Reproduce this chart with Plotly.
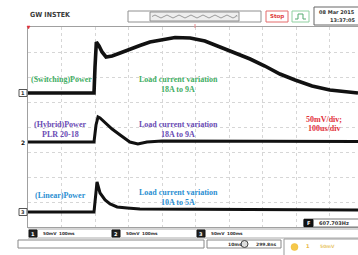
import plotly.graph_objects as go

# ---- data (time in us, 100us/div; screen value in mV, 50mV/div) ----
t_switching = [0, 197, 200, 204, 212, 221, 233, 251, 275, 304, 334, 364, 394, 439, 484, 528, 573, 618, 663, 707, 752, 797, 848, 901, 949, 985]
v_switching = [68, 68, 120, 170, 162, 150, 140, 142, 148, 156, 163, 170, 174, 179, 178, 172, 160, 148, 136, 122, 106, 94, 82, 74, 70, 68]

t_hybrid = [0, 197, 203, 209, 215, 230, 251, 275, 304, 328, 355, 400, 985]
v_hybrid = [-30, -30, 4, 20, 18, 8, -4, -16, -30, -34, -30, -28, -29]

t_linear = [0, 197, 203, 206, 215, 230, 245, 266, 296, 334, 985]
v_linear = [-170, -170, -130, -110, -132, -146, -154, -160, -162, -164, -166]

labels = {
    "switching": "(Switching)Power",
    "hybrid": ["(Hybrid)Power", "PLR 20-18"],
    "linear": "(Linear)Power",
}
load_texts = [["Load current variation", "18A to 9A"],
              ["Load current variation", "18A to 9A"],
              ["Load current variation", "10A to 5A"]]
scale_text = ["50mV/div;", "100us/div"]

GREEN = "#3fae64"
PURPLE = "#6a4cb4"
BLUE = "#2b8fd2"
RED = "#e2323c"

W, H = 358, 255
L, T, R_, B_ = 28, 27, 358, 227


def px(x):
    return (x - L) / (R_ - L)


def py(y):
    return (B_ - y) / (B_ - T)


fig = go.Figure()
for t, v, w in [(t_switching, v_switching, 3.6), (t_hybrid, v_hybrid, 3.0), (t_linear, v_linear, 3.0)]:
    fig.add_trace(go.Scatter(x=t, y=v, mode="lines", line=dict(color="#111111", width=w),
                             showlegend=False, hoverinfo="skip"))

ann = []
SERIF = "Liberation Serif"


def txt(x, y, s, color, size=8, xref="x", yref="y", bold=True, family=SERIF, xanchor="center"):
    ann.append(dict(x=x, y=y, xref=xref, yref=yref, text=("<b>%s</b>" % s) if bold else s,
                    showarrow=False, font=dict(family=family, size=size, color=color),
                    xanchor=xanchor, yanchor="middle"))


# channel annotations (data coords)
txt(101, 96, labels["switching"], GREEN)
txt(448, 96, load_texts[0][0], GREEN)
txt(448, 76, load_texts[0][1], GREEN)
txt(96, 6, labels["hybrid"][0], PURPLE)
txt(96, -14, labels["hybrid"][1], PURPLE)
txt(448, 6, load_texts[1][0], PURPLE)
txt(448, -14, load_texts[1][1], PURPLE)
txt(884, 16, scale_text[0], RED)
txt(884, -2, scale_text[1], RED)
txt(96, -136, labels["linear"], BLUE)
txt(448, -130, load_texts[2][0], BLUE)
txt(448, -150, load_texts[2][1], BLUE)

shapes = []


def rect(x0, y0, x1, y1, line="#888888", fill="white", lw=1):
    shapes.append(dict(type="rect", xref="paper", yref="paper", x0=px(x0), x1=px(x1), y0=py(y1), y1=py(y0),
                       line=dict(color=line, width=lw), fillcolor=fill, layer="above"))


def hline(x0, x1, y, color="#999999", lw=1):
    shapes.append(dict(type="line", xref="paper", yref="paper", x0=px(x0), x1=px(x1), y0=py(y), y1=py(y),
                       line=dict(color=color, width=lw)))


def ptxt(x, y, s, color="#333333", size=5.5, bold=True, xanchor="left", family="DejaVu Sans"):
    txt(px(x), py(y), s, color, size=size, xref="paper", yref="paper", bold=bold, family=family, xanchor=xanchor)


# top bar
ptxt(28, 15, "GW INSTEK", "#3a3a3a", size=7, family="DejaVu Sans Condensed")
rect(128, 11, 261, 22, line="#909090")
rect(150, 12, 239, 21, line="#909090", fill="#eeeeee")
wave = "M %f,%f" % (px(152), py(16.5))
xw = 152
up = True
while xw < 237:
    xn = min(xw + 6, 237)
    wave += " Q %f,%f %f,%f" % (px((xw + xn) / 2), py(13.5 if up else 19.5), px(xn), py(16.5))
    up = not up
    xw = xn
shapes.append(dict(type="path", xref="paper", yref="paper", path=wave, line=dict(color="#9a9a9a", width=1)))
rect(266, 11, 288, 22, line="#e46a6a")
ptxt(277, 16.5, "Stop", "#e03a3a", size=5.5, xanchor="center")
rect(292, 11, 309, 22, line="#8fd0a0")
pulse = "M %f,%f L %f,%f L %f,%f L %f,%f L %f,%f" % (px(295), py(19), px(298), py(19), px(298), py(14),
                                                     px(303), py(14), px(303), py(19))
pulse += " L %f,%f" % (px(306), py(19))
shapes.append(dict(type="path", xref="paper", yref="paper", path=pulse, line=dict(color="#55aa70", width=1)))
rect(314, 7, 362, 25, line="#666666")
ptxt(317, 12, "08 Mar 2015", "#333333", size=5)
ptxt(328, 20, "13:37:05", "#333333", size=5)

# trigger markers
shapes.append(dict(type="path", xref="paper", yref="paper",
                   path="M %f,%f L %f,%f L %f,%f Z" % (px(27), py(26), px(30), py(26), px(28.5), py(29)),
                   fillcolor=RED, line=dict(color=RED, width=0.5)))
shapes.append(dict(type="line", xref="paper", yref="paper", x0=px(195), x1=px(195), y0=py(24), y1=py(28),
                   line=dict(color="#e88a8a", width=1)))

# channel ground markers
for yy, lab, filled in [(93, "1", False), (142, "2", True), (212, "3", False)]:
    if filled:
        ptxt(23, yy, lab, "#111111", size=6, xanchor="center")
    else:
        rect(19, yy - 3.5, 27, yy + 3.5, line="#555555")
        ptxt(23, yy, lab, "#333333", size=5, xanchor="center")

# frequency box
rect(304, 219, 362, 227, line="#777777")
rect(304, 219.5, 313, 226.5, line="#111111", fill="#111111")
ptxt(308.5, 223, "F", "white", size=5, xanchor="center")
ptxt(317, 223, "607.703Hz", "#333333", size=5)

# channel info row
hline(28, 358, 229, "#aaaaaa")
hline(28, 358, 238, "#aaaaaa")
for x0, lab in [(29, "1"), (112, "2"), (197, "3")]:
    rect(x0, 230, x0 + 8, 237, line="#111111", fill="#222222")
    ptxt(x0 + 4, 233.5, lab, "white", size=5, xanchor="center")
    ptxt(x0 + 12, 233.5, "50mV", "#333333", size=4.2)
    ptxt(x0 + 28, 233.5, "100ms", "#333333", size=4.2)

# bottom row
shapes.append(dict(type="rect", xref="paper", yref="paper", x0=px(18), x1=px(204), y0=py(248), y1=py(240),
                   line=dict(color="#888888", width=1), fillcolor="white"))
rect(207, 240, 281, 248, line="#888888")
ptxt(226, 244, "10ms", "#333333", size=4.5)
shapes.append(dict(type="circle", xref="paper", yref="paper", x0=px(241), x1=px(248), y0=py(247.5), y1=py(240.5),
                   line=dict(color="#444444", width=1), fillcolor="#dddddd"))
ptxt(254, 244, "299.8ns", "#333333", size=4.5)
shapes.append(dict(type="line", xref="paper", yref="paper", x0=px(284), x1=px(284), y0=py(255), y1=py(239),
                   line=dict(color="#999999", width=1)))
hline(284, 360, 239, "#999999")
shapes.append(dict(type="circle", xref="paper", yref="paper", x0=px(291), x1=px(298), y0=py(250.5), y1=py(243.5),
                   fillcolor="#f5c84a", line=dict(color="#f0b830", width=0.5)))
ptxt(304, 246, "1", "#e8b84a", size=5)
ptxt(318, 246, "50mV", "#e8c870", size=4.5)

fig.update_layout(
    width=W, height=H,
    margin=dict(l=L, r=W - R_, t=T, b=H - B_),
    paper_bgcolor="white", plot_bgcolor="white",
    xaxis=dict(range=[0, 985], dtick=100, tick0=0, showgrid=True, gridcolor="#d6d6d6", griddash="dot",
               gridwidth=1, zeroline=False, showticklabels=False, ticks="", showline=True,
               linecolor="#a0a0a0", linewidth=1, mirror=True, fixedrange=True),
    yaxis=dict(range=[-200, 200], dtick=50, tick0=0, showgrid=True, gridcolor="#d6d6d6", griddash="dot",
               gridwidth=1, zeroline=False, showticklabels=False, ticks="", showline=True,
               linecolor="#a0a0a0", linewidth=1, fixedrange=True),
    annotations=ann, shapes=shapes, showlegend=False,
)

fig.write_html("out.html", config={"displayModeBar": False},
               post_script="document.body.style.margin='0px';document.body.style.overflow='hidden';")
